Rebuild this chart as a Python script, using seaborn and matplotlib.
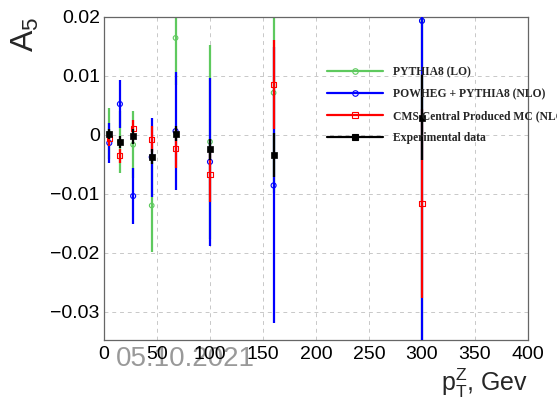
import numpy as np
import pandas as pd
import matplotlib
matplotlib.use("Agg")
import matplotlib.pyplot as plt
import seaborn as sns
from matplotlib.lines import Line2D
from matplotlib.ticker import MultipleLocator, AutoMinorLocator

# ---------------- data ----------------
pt_bins = [5, 15, 27.5, 45, 67.5, 100, 160, 300]

series_names = ["PYTHIA8 (LO)", "POWHEG + PYTHIA8 (NLO)",
                "CMS Central Produced MC (NLO)", "Experimental data"]

a5_pythia = [0.0002, -0.0012, -0.0017, -0.0120, 0.0164, -0.0012, 0.0071, 0.0193]
err_pythia = [0.0043, 0.0053, 0.0057, 0.0078, 0.0080, 0.0164, 0.0170, 0.0550]

a5_powheg = [-0.0014, 0.0052, -0.0104, -0.0038, 0.0006, -0.0046, -0.0086, 0.0193]
err_powheg = [0.0034, 0.0041, 0.0048, 0.0067, 0.0100, 0.0142, 0.0234, 0.0560]

a5_cms = [-0.0007, -0.0036, 0.0011, -0.0008, -0.0023, -0.0068, 0.0085, -0.0116]
err_cms = [0.0012, 0.0012, 0.0014, 0.0022, 0.0034, 0.0046, 0.0075, 0.0160]

a5_data = [0.0001, -0.0012, -0.0003, -0.0037, 0.0002, -0.0025, -0.0034, 0.0029]
err_data = [0.0008, 0.0010, 0.0012, 0.0012, 0.0012, 0.0018, 0.0037, 0.0072]

x_ticks = [0, 50, 100, 150, 200, 250, 300, 350, 400]
y_ticks = [-0.03, -0.02, -0.01, 0, 0.01, 0.02]
watermark = "05.10.2021"

# ---------------- style ----------------
sns.set_theme(style="white")
plt.rcParams["font.family"] = ["Liberation Sans", "DejaVu Sans"]
plt.rcParams["mathtext.fontset"] = "custom"
plt.rcParams["mathtext.rm"] = "Liberation Sans"
plt.rcParams["mathtext.it"] = "Liberation Sans"
plt.rcParams["axes.unicode_minus"] = True

colors = ["#5ec95e", "#0000ff", "#ff0000", "#000000"]
markers = ["o", "o", "s", "s"]
filled = [False, False, False, True]
msizes = [11, 13, 13, 22]

fig = plt.figure(figsize=(5.57, 4.04), dpi=100)
ax = fig.add_axes([104 / 557, 1 - 340 / 404, (528 - 104) / 557, (340 - 16.7) / 404])
ax.set_facecolor("white")

values = [a5_pythia, a5_powheg, a5_cms, a5_data]
errors = [err_pythia, err_powheg, err_cms, err_data]

for i, name in enumerate(series_names):
    df = pd.DataFrame({"pt": pt_bins, "a5": values[i], "err": errors[i]})
    z = 2 + i
    ax.errorbar(df["pt"], df["a5"], yerr=df["err"], fmt="none",
                ecolor=colors[i], elinewidth=1.6, capsize=0, zorder=z)
    if filled[i]:
        sns.scatterplot(data=df, x="pt", y="a5", ax=ax, marker=markers[i],
                        s=msizes[i], color=colors[i], edgecolor=colors[i],
                        linewidth=0.5, zorder=z + 0.5, legend=False)
    else:
        sns.scatterplot(data=df, x="pt", y="a5", ax=ax, marker=markers[i],
                        s=msizes[i], facecolors="none", edgecolor=colors[i],
                        linewidth=0.8, zorder=z + 0.5, legend=False)

ax.set_xlim(0, 400)
ax.set_ylim(-0.0348, 0.02)
ax.set_xticks(x_ticks)
ax.set_yticks(y_ticks)
ax.set_yticklabels(["\u22120.03", "\u22120.02", "\u22120.01", "0", "0.01", "0.02"])
ax.xaxis.set_minor_locator(MultipleLocator(10))
ax.yaxis.set_minor_locator(AutoMinorLocator(2))
ax.tick_params(axis="both", which="both", direction="in", top=False, right=False,
               color="#555555", labelsize=14, labelcolor="black")
ax.tick_params(axis="both", which="major", length=7, width=0.8)
ax.tick_params(axis="both", which="minor", length=4, width=0.8)
ax.tick_params(axis="x", pad=4)
ax.tick_params(axis="y", pad=3)

ax.grid(True, which="major", color="#c8c8c8", linestyle=(0, (4, 4)), linewidth=0.7)
ax.set_axisbelow(True)
for sp in ax.spines.values():
    sp.set_color("#666666")
    sp.set_linewidth(0.9)

ax.set_xlabel(r"$\mathrm{p}_{\mathrm{T}}^{\mathrm{Z}}$, Gev", fontsize=18, loc="right")
ax.xaxis.label.set_va("center")
ax.xaxis.set_label_coords(1.0, -0.133)
ax.set_ylabel(r"$\mathrm{A}_{5}$", fontsize=23, loc="top")
ax.yaxis.set_label_coords(-0.148, 1.0)

handles = [Line2D([], [], color=colors[i], lw=1.6, marker=markers[i], markersize=4,
                  markerfacecolor=(colors[i] if filled[i] else "none"),
                  markeredgecolor=colors[i], markeredgewidth=0.8)
           for i in range(4)]
fig.legend(handles, series_names, loc="upper left",
           bbox_to_anchor=(327 / 557, 1 - 66.0 / 404), frameon=False,
           prop={"family": "Liberation Serif", "weight": "bold", "size": 8.4},
           numpoints=1, handlelength=4.8, handletextpad=0.85,
           labelspacing=0.85, borderpad=0, borderaxespad=0)

fig.text(116 / 557, 1 - 359 / 404, watermark, color="#999999", fontsize=20,
         ha="left", va="center", zorder=-1)

fig.savefig("out.png", dpi=100, facecolor="white")
